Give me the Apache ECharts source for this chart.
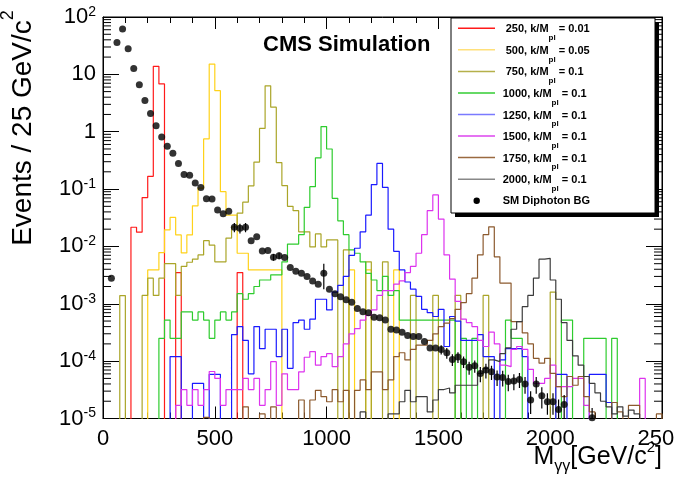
<!DOCTYPE html>
<html>
<head>
<meta charset="utf-8">
<title>Diphoton mass, RS graviton signals</title>
<script src="https://cdn.jsdelivr.net/npm/echarts@6.0.0/dist/echarts.min.js"></script>
<style>
  html, body { margin: 0; padding: 0; background: #fff; }
  #chart { width: 677px; height: 479px; }
</style>
</head>
<body>
<div id="chart"></div>
<script>
// 25 GeV bins from 0 to 2500
const binWidth = 25;
const nBins = 100;

// legend text parts
const massPoints = [' 250', ' 500', ' 750', '1000', '1250', '1500', '1750', '2000'];
const couplings = ['0.01', '0.05', '0.1', '0.1', '0.1', '0.1', '0.1', '0.1'];
const bgName = 'SM Diphoton BG';

// bin contents, index = bin number (missing bins are empty)
const sig250 = [0, 0, 0, 0, 0, 0.0216, 0.0177, 0.071, 0.167, 13.8,
  6.8, 0, 0, 0.0035, 0, 0, 0, 0, 0, 0,
  0, 0, 0, 0, 0.0035];

const sig500 = [0, 0, 0, 0, 0, 0, 0, 0, 0.0039, 0.0039,
  0.0078, 0.0195, 0.032, 0.0159, 0.0077, 0.0159, 0.051, 0.104, 0.75, 15.1,
  5.2, 0.09, 0.035, 0.035, 0.0076, 0.0076, 0.0039, 0.0039, 0.0039, 0.0039,
  0.0039, 0.0039, 0, 0, 0, 0, 0, 0, 0, 0,
  0, 0, 0, 0, 0.0039, 0, 0, 0.0039, 0, 0,
  0, 0, 0.0039];

const sig750 = [0, 0, 0, 0.00139, 0, 0, 0, 0.0014, 0.0028, 0.0014,
  0.0028, 0.005, 0.005, 0.0014, 0.0045, 0.0053, 0.006, 0.0071, 0.0126, 0.0105,
  0.0054, 0.0054, 0.014, 0.022, 0.038, 0.059, 0.114, 0.295, 1.14, 6.3,
  2.68, 0.29, 0.115, 0.05, 0.042, 0.018, 0.018, 0.0098, 0.0165, 0.0098,
  0.013, 0.013, 0, 0.0087, 0, 0, 0, 0.0054, 0, 0,
  0.0054, 0, 0, 0, 0, 0.0014, 0, 0, 0, 0.0014,
  0, 0, 0, 0.0014, 0, 0, 0, 0, 0.0014, 0,
  0, 0, 0, 0, 0, 0, 0, 0, 0, 0,
  0.0016];

const sig1000 = [0, 0, 0, 0, 0, 0, 0, 0, 0, 0,
  0.00025, 0.00052, 0.00025, 0.00025, 0.00072, 0.00072, 0.00052, 0.00072, 0.00052, 0.00025,
  0.00052, 0.00072, 0.00052, 0.00072, 0.0015, 0.0012, 0.0015, 0.002, 0.0026, 0.0026,
  0.0032, 0.0032, 0.0054, 0.011, 0.011, 0.016, 0.048, 0.11, 0.35, 1.23,
  0.5, 0.069, 0.028, 0.016, 0.0087, 0.0076, 0.0054, 0.0034, 0.0026, 0.0017,
  0.003, 0.0014, 0.0017, 0.00052, 0.00052, 0.00052, 0.00052, 0.00052, 0.00052, 0.00052,
  0.00052, 0.00052, 0.00052, 0, 0.00025, 0, 0.00025, 0, 0, 0,
  0, 0, 0.00052, 0.00025, 0.00025, 0, 0, 0, 0, 0,
  0, 0, 0.00052, 0.00052, 0, 0, 0.00025, 0.00025, 0.00025, 0.00025,
  0, 0.00025];

const sig1250 = [0, 0, 0, 0, 0, 0, 0, 0, 0, 0,
  0, 0, 0.00012, 0.00012, 0, 0, 0.000041, 0.000041, 0, 0.000059,
  0.000059, 0, 0, 0.00029, 0.0004, 0.00023, 0.00006, 0.0004, 0.000165, 0.00036,
  0.00036, 0.00012, 0.00036, 0.000075, 0.00047, 0.00052, 0.00036, 0.00054, 0.0012, 0.0012,
  0.00078, 0.0016, 0.0021, 0.003, 0.007, 0.0093, 0.018, 0.035, 0.12, 0.28,
  0.107, 0.02, 0.0082, 0.0039, 0.0024, 0.0018, 0.00135, 0.0008, 0.0007, 0.0006,
  0.0008, 0.00018, 0.0006, 0.0005, 0.00023, 0.00023, 0.00023, 0.00029, 0.00012, 0.00012,
  0, 0.000105, 0.000165, 0.000165, 0.000165, 0.00012, 0, 0, 0, 0,
  0, 0.000059, 0.000059, 0, 0, 0, 0, 0.000059, 0.000059, 0.000059,
  0.000019];

const sig1500 = [0, 0, 0, 0, 0, 0, 0, 0, 0, 0,
  0, 0, 0, 0.000017, 0.000032, 0.000017, 0.000032, 0.000017, 0.000032, 0.000066,
  0.00005, 0.000017, 0.000032, 0.000032, 0.000032, 0.00005, 0.000032, 0.00005, 0.000017, 0.000032,
  0.000098, 0.000017, 0.00006, 0.000032, 0.000032, 0.000065, 0.000117, 0.000146, 0.000085, 0.00012,
  0.000135, 0.00008, 0.00012, 0.0002, 0.0003, 0.00037, 0.00052, 0.00063, 0.00078, 0.0014,
  0.0017, 0.0017, 0.0022, 0.0025, 0.0035, 0.0045, 0.0076, 0.016, 0.042, 0.079,
  0.03, 0.0071, 0.0027, 0.0011, 0.00054, 0.00047, 0.0004, 0.00023, 0.00018, 0.00032,
  0.0002, 0.000085, 0.00008, 0.00016, 0.00018, 0.00016, 0.000072, 0.000041, 0.000041, 0.00005,
  0.000085, 0.000036, 0.000036, 0.000036, 0.00005, 0.00005, 0.000017, 0, 0, 0,
  0, 0, 0, 0, 0, 0, 0.00005];

const sig1750 = [0, 0, 0, 0, 0, 0, 0, 0, 0, 0,
  0, 0, 0, 0, 0, 0, 0, 0, 0.0000105, 0,
  0, 0, 0, 0, 0, 0.000016, 0, 0, 0.000012, 0,
  0.000016, 0, 0, 0, 0, 0.000021, 0, 0.000021, 0.000031, 0.000024,
  0.0000196, 0.000032, 0.0000196, 0.000031, 0, 0.000031, 0.000047, 0.000032, 0.000065, 0.000065,
  0.000032, 0.000047, 0.00012, 0.00014, 0.000105, 0.00016, 0.00019, 0.00019, 0.00023, 0.0003,
  0.0004, 0.00046, 0.00055, 0.0008, 0.00105, 0.0015, 0.0028, 0.0071, 0.016, 0.022,
  0.0066, 0.0023, 0.0023, 0.00049, 0.00049, 0.00031, 0.0002, 0.000112, 0.000092, 0.000112,
  0.000061, 0.000036, 0.000024, 0.000054, 0.000038, 0.000054, 0.000024, 0.000013, 0, 0,
  0, 0.000019, 0.000013, 0, 0.000017, 0.000017, 0, 0, 0, 0.000012];

const sig2000 = [0, 0, 0, 0, 0, 0, 0, 0, 0, 0,
  0, 0, 0, 0, 0, 0, 0, 0, 0, 0,
  0, 0, 0, 0, 0, 0, 0, 0, 0, 0,
  0, 0, 0, 0, 0, 0, 0, 0, 0, 0,
  0, 0, 0, 0, 0, 0, 0.000013, 0, 0, 0,
  0, 0.000012, 0.000012, 0.0000196, 0.000031, 0.0000196, 0.000024, 0.000024, 0.000013, 0.000021,
  0.000032, 0.000034, 0.000028, 0.000038, 0.000038, 0.000038, 0.000038, 0.000061, 0.000075, 0.000105,
  0.000098, 0.000135, 0.00017, 0.00036, 0.00049, 0.00089, 0.0014, 0.0028, 0.006, 0.0062,
  0.0026, 0.0012, 0.00047, 0.00023, 0.000124, 0.000085, 0.000054, 0.000041, 0.000028, 0.00002,
  0.000016, 0.000012, 0.000016, 0.000011, 0.000014, 0.000012];

// SM diphoton background, one point per bin centre
const bgValues = [0, 0.0028, 36, 62, 28, 12.7, 6.6, 3.5, 2.08, 1.27,
  0.81, 0.56, 0.42, 0.28, 0.18, 0.175, 0.127, 0.106, 0.068, 0.067,
  0.043, 0.037, 0.041, 0.0216, 0.0208, 0.0216, 0.0125, 0.0148, 0.0083, 0.0085,
  0.0065, 0.0069, 0.0064, 0.0043, 0.0037, 0.0034, 0.003, 0.0025, 0.0022, 0.0034,
  0.0018, 0.0015, 0.00133, 0.00118, 0.00106, 0.00083, 0.00073, 0.0007, 0.00058, 0.00057,
  0.00052, 0.00036, 0.00035, 0.00032, 0.00028, 0.00027, 0.00027, 0.00022, 0.00017, 0.00017,
  0.00016, 0.00014, 0.000107, 0.000118, 0.000098, 0.000078, 0.000083, 0.000061, 0.00007, 0.000065,
  0.000053, 0.000052, 0.000044, 0.000045, 0.000048, 0.00004, 0.000021, 0.00004, 0.000025, 0.0000196,
  0.0000196, 0.0000144, 0.0000176, 0, 0, 0, 0, 0.0000103];

const bgErrors = [0, 0, 0, 0, 0, 0, 0, 0, 0, 0,
  0, 0, 0, 0, 0, 0, 0, 0, 0, 0,
  0, 0, 0, 0.004, 0.004, 0.004, 0, 0, 0, 0,
  0.0009, 0.0009, 0, 0, 0, 0, 0, 0, 0, 0.0016,
  0, 0, 0, 0, 0, 0, 0, 0, 0, 0,
  0, 0, 0, 0, 0, 0, 0, 0, 0, 0,
  0.00003, 0.00003, 0.000025, 0.000025, 0.000022, 0.00002, 0.00002, 0.000018, 0.00002, 0.000018,
  0.000016, 0.000016, 0.000014, 0.000014, 0.000014, 0.000013, 0.000009, 0.000013, 0.00001, 0.000008,
  0.000008, 0.000007, 0.000008, 0, 0, 0, 0, 0.000005];

const signals = [sig250, sig500, sig750, sig1000, sig1250, sig1500, sig1750, sig2000];
const lineColors = ['#ff1a1a', '#ffd21a', '#aaa528', '#2ecc2e', '#1a1aff', '#dd33ee', '#8c5a2e', '#3c3c3c'];
const legendColors = ['#ff1a1a', '#ffe07a', '#b5b04a', '#33cc33', '#7a7aff', '#dd44ee', '#9a6a40', '#888888'];

const font = 'Liberation Sans, Arial, Helvetica, sans-serif';
const xMax = nBins * binWidth;
const yMin = 1e-5, yMax = 100;
const floorVal = 1e-9;   // empty bins: drawn below the frame and clipped

function histLine(vals) {
  var pts = [];
  for (var i = 0; i < nBins; i++) {
    var v = vals[i] > 0 ? vals[i] : floorVal;
    pts.push([i * binWidth, v]);
  }
  pts.push([xMax, floorVal]);
  return pts;
}

var bgPoints = [], bgBars = [];
bgValues.forEach(function (v, i) {
  if (v <= 0) return;
  var xc = (i + 0.5) * binWidth;
  bgPoints.push([xc, v]);
  if (bgErrors[i] > 0) bgBars.push([xc, Math.max(v - bgErrors[i], 1e-7), v + bgErrors[i]]);
});

// log minor ticks 2..9 per decade
var minorTicks = [];
for (var d = -5; d < 2; d++) {
  for (var k = 2; k <= 9; k++) minorTicks.push([0, k * Math.pow(10, d)]);
}

var series = signals.map(function (arr, i) {
  return {
    type: 'line',
    name: massPoints[i].trim(),
    data: histLine(arr),
    step: 'end',
    symbol: 'none',
    lineStyle: { color: lineColors[i], width: 1.2 },
    itemStyle: { color: lineColors[i] },
    clip: true,
    z: 2 + i * 0.01
  };
});

series.push({
  type: 'custom',
  name: 'bgErr',
  data: bgBars,
  encode: { x: 0, y: [1, 2] },
  clip: true,
  z: 4,
  renderItem: function (params, api) {
    var lo = api.coord([api.value(0), api.value(1)]);
    var hi = api.coord([api.value(0), api.value(2)]);
    return {
      type: 'line',
      shape: { x1: lo[0], y1: lo[1], x2: hi[0], y2: hi[1] },
      style: { stroke: '#000', lineWidth: 1.2 }
    };
  }
});

series.push({
  type: 'scatter',
  name: bgName,
  data: bgPoints,
  symbol: 'circle',
  symbolSize: 7,
  itemStyle: { color: '#000' },
  z: 5
});

series.push({
  type: 'custom',
  name: 'minorTicks',
  data: minorTicks,
  encode: { x: 0, y: 1 },
  silent: true,
  z: 6,
  renderItem: function (params, api) {
    var l = api.coord([0, api.value(1)]);
    var r = api.coord([xMax, api.value(1)]);
    return {
      type: 'group',
      children: [
        { type: 'line', shape: { x1: l[0], y1: l[1], x2: l[0] + 8, y2: l[1] }, style: { stroke: '#000', lineWidth: 1 } },
        { type: 'line', shape: { x1: r[0] - 8, y1: r[1], x2: r[0], y2: r[1] }, style: { stroke: '#000', lineWidth: 1 } }
      ]
    };
  }
});

// legend drawn by hand: ROOT style box with drop shadow
var legX = 451, legY = 18, legW = 204, legH = 195;
var rowY0 = 28.3, rowStep = 21.55;
var legend = [
  { type: 'rect', shape: { x: legX + 4, y: legY + 4, width: legW, height: legH }, style: { fill: '#000' }, z: 100 },
  { type: 'rect', shape: { x: legX, y: legY, width: legW, height: legH }, style: { fill: '#fff', stroke: '#000', lineWidth: 1 }, z: 101 }
];
massPoints.forEach(function (m, i) {
  var y = rowY0 + i * rowStep;
  legend.push({
    type: 'line', z: 102,
    shape: { x1: 458, y1: y, x2: 495, y2: y },
    style: { stroke: legendColors[i], lineWidth: 1.5 }
  });
  // "pl" subscript: token placed at the bottom of a 25px line box
  legend.push({
    type: 'text', z: 102, x: 502.7, y: y + 1,
    style: {
      text: '{a|' + m + ', k/M}{p|pl}{a| = ' + couplings[i] + '}',
      verticalAlign: 'middle', align: 'left',
      rich: {
        a: { fontSize: 11, fontWeight: 'bold', fontFamily: font, color: '#000', lineHeight: 25, verticalAlign: 'middle' },
        p: { fontSize: 8, fontWeight: 'bold', fontFamily: font, color: '#000', lineHeight: 8, verticalAlign: 'bottom' }
      }
    }
  });
});
var bgRowY = rowY0 + 8 * rowStep;
legend.push({ type: 'circle', z: 102, shape: { cx: 476.7, cy: bgRowY, r: 3.2 }, style: { fill: '#000' } });
legend.push({
  type: 'text', z: 102, x: 502.7, y: bgRowY,
  style: { text: bgName, fontSize: 11, fontWeight: 'bold', fontFamily: font, fill: '#000', verticalAlign: 'middle', align: 'left' }
});

var titles = [
  {
    type: 'text', x: 263, y: 45, z: 50,
    style: { text: 'CMS Simulation', fontSize: 22, fontWeight: 'bold', fontFamily: font, fill: '#000', verticalAlign: 'middle', align: 'left' }
  },
  {
    type: 'text', x: 23, y: 128, rotation: Math.PI / 2, z: 50,
    style: {
      text: '{t|Events / 25 GeV/c}{s|2}',
      align: 'center', verticalAlign: 'middle',
      rich: {
        t: { fontSize: 28, fontFamily: font, color: '#000', lineHeight: 47, verticalAlign: 'middle' },
        s: { fontSize: 18, fontFamily: font, color: '#000', lineHeight: 18, verticalAlign: 'top' }
      }
    }
  },
  {
    type: 'text', x: 662, y: 457.5, z: 50,
    style: {
      text: '{m|M}{g|γγ}{m|[GeV/c}{s|2}{m|]}',
      align: 'right', verticalAlign: 'middle',
      rich: {
        m: { fontSize: 25, fontFamily: font, color: '#000', lineHeight: 41, verticalAlign: 'middle' },
        g: { fontSize: 16, fontFamily: font, color: '#000', lineHeight: 16, verticalAlign: 'top', padding: [22, 0, 0, 0] },
        s: { fontSize: 15, fontFamily: font, color: '#000', lineHeight: 15, verticalAlign: 'top', padding: [3, 0, 0, 0] }
      }
    }
  }
];

function xAxisDef(pos) {
  return {
    type: 'value', position: pos, min: 0, max: xMax, interval: 500,
    axisLine: { show: true, onZero: false, lineStyle: { color: '#000', width: 1 } },
    axisTick: { show: true, inside: true, length: 12, lineStyle: { color: '#000' } },
    minorTick: { show: true, splitNumber: 5, length: 6, lineStyle: { color: '#000' } },
    axisLabel: {
      show: pos === 'bottom', fontSize: 22, fontFamily: font, color: '#000', margin: 9,
      showMaxLabel: false,
      formatter: function (v) { return String(v); }
    },
    splitLine: { show: false }
  };
}

function yAxisDef(pos) {
  return {
    type: 'log', logBase: 10, position: pos, min: yMin, max: yMax, interval: 1,
    axisLine: { show: true, onZero: false, lineStyle: { color: '#000', width: 1 } },
    axisTick: { show: true, inside: true, length: 16, lineStyle: { color: '#000' } },
    axisLabel: {
      show: pos === 'left', margin: 7,
      formatter: function (v) {
        var e = Math.round(Math.log10(v));
        if (e === 0) return '{b|1}';
        if (e === 1) return '{b|10}';
        return '{b|10}{s|' + e + '}';
      },
      rich: {
        b: { fontSize: 22, fontFamily: font, color: '#000', lineHeight: 24, verticalAlign: 'middle' },
        s: { fontSize: 14, fontFamily: font, color: '#000', lineHeight: 14, verticalAlign: 'top' }
      }
    },
    splitLine: { show: false }
  };
}

var chart = echarts.init(document.getElementById('chart'), null, { renderer: 'canvas' });
chart.setOption({
  animation: false,
  backgroundColor: '#fff',
  grid: { left: 103, right: 15, top: 17, bottom: 60.5, show: true, borderColor: '#000', borderWidth: 1, backgroundColor: 'transparent' },
  xAxis: [xAxisDef('bottom'), xAxisDef('top')],
  yAxis: [yAxisDef('left'), yAxisDef('right')],
  series: series
});

// last x label placed centred on its tick (the source figure is cropped through it)
var maxPos = chart.convertToPixel({ xAxisIndex: 0, yAxisIndex: 0 }, [xMax, yMin]);
var maxLabel = [
  {
    type: 'text', z: 50, x: maxPos[0], y: maxPos[1] + 9,
    style: { text: String(xMax), fontSize: 22, fontFamily: font, fill: '#000', align: 'center', verticalAlign: 'top' }
  },
  { type: 'rect', z: 60, shape: { x: 674, y: maxPos[1] + 6, width: 3, height: 28 }, style: { fill: '#fff' } }
];
chart.setOption({ graphic: legend.concat(titles, maxLabel) });
</script>
</body>
</html>
